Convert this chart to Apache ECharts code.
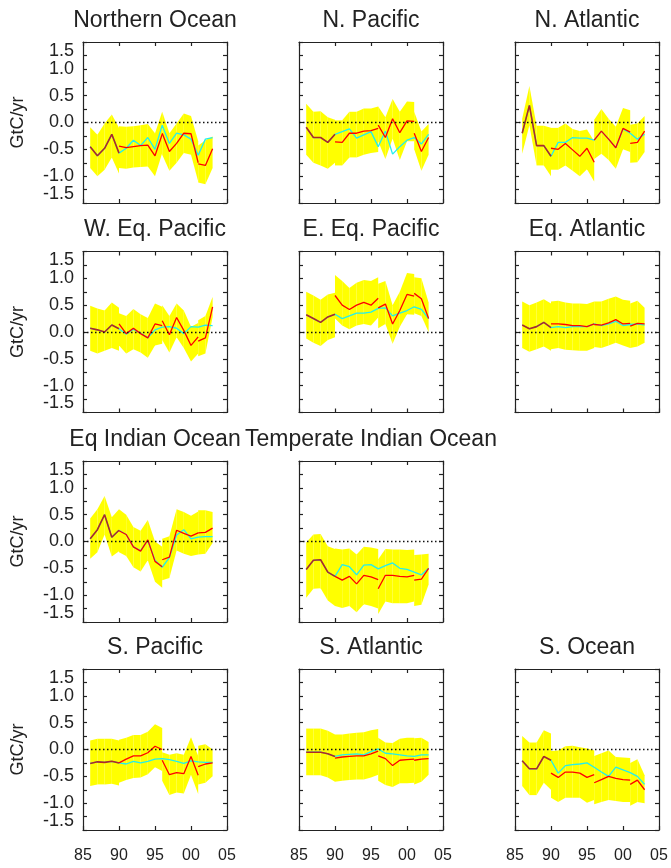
<!DOCTYPE html>
<html><head><meta charset="utf-8">
<script src="https://cdn.jsdelivr.net/npm/echarts@6/dist/echarts.min.js"></script>
<style>html,body{margin:0;padding:0;background:#fff}#c{width:671px;height:868px}</style>
</head><body><div id="c"></div><script>
// segment start years (red line + band are drawn in 4 overlapping pieces)
const segStart = [1986, 1990, 1996, 2001];
const cyanStart = 1986;
const xTickLabels = ['85', '90', '95', '00', '05'];
const yTickLabels = ['-1.5', '-1.0', '-0.5', '0.0', '0.5', '1.0', '1.5'];

// Northern Ocean
const noCyan = [-0.45,-0.62,-0.48,-0.22,-0.57,-0.48,-0.33,-0.43,-0.28,-0.50,-0.05,-0.39,-0.20,-0.23,-0.31,-0.61,-0.31,-0.28];
const noRed = [[-0.45,-0.62,-0.48,-0.22,-0.57],[-0.44,-0.47,-0.45,-0.43,-0.42,-0.62,-0.22],[-0.20,-0.54,-0.39,-0.20,-0.21,-0.75],[-0.77,-0.80,-0.49]];
const noHi = [[-0.09,-0.23,-0.02,0.15,-0.10],[-0.07,-0.08,-0.07,-0.05,-0.03,-0.20,0.20],[0.20,-0.20,-0.02,0.17,0.12,-0.35],[-0.43,-0.33,-0.26]];
const noLo = [[-0.85,-1.00,-0.88,-0.65,-0.95],[-0.85,-0.86,-0.84,-0.83,-0.82,-1.00,-0.57],[-0.60,-0.90,-0.75,-0.57,-0.60,-1.10],[-1.12,-1.15,-0.85]];

// N. Pacific
const npCyan = [-0.09,-0.28,-0.28,-0.37,-0.22,-0.17,-0.12,-0.29,-0.23,-0.17,-0.45,-0.16,-0.59,-0.45,-0.33,-0.28,-0.40,-0.22];
const npRed = [[-0.09,-0.28,-0.28,-0.37,-0.22],[-0.36,-0.37,-0.20,-0.20,-0.16,-0.15,-0.11],[-0.05,-0.28,0.07,-0.19,0.03,0.02],[-0.20,-0.54,-0.28]];
const npHi = [[0.35,0.20,0.21,0.10,0.05],[0.04,0.04,0.20,0.20,0.26,0.26,0.30],[0.30,0.10,0.44,0.20,0.39,0.38],[0.20,-0.17,-0.03]];
const npLo = [[-0.60,-0.75,-0.80,-0.86,-0.75],[-0.80,-0.80,-0.65,-0.65,-0.60,-0.57,-0.55],[-0.35,-0.68,-0.30,-0.70,-0.35,-0.35],[-0.50,-0.90,-0.60]];

// N. Atlantic
const naCyan = [-0.20,0.32,-0.43,-0.43,-0.63,-0.37,-0.37,-0.28,-0.29,-0.29,-0.33,-0.16,-0.31,-0.47,-0.12,-0.20,-0.31,-0.22];
const naRed = [[-0.20,0.32,-0.43,-0.43,-0.63],[-0.48,-0.50,-0.39,-0.51,-0.63,-0.48,-0.74],[-0.33,-0.16,-0.31,-0.47,-0.11,-0.18],[-0.39,-0.37,-0.16]];
const naHi = [[0.07,0.68,-0.06,-0.06,-0.10],[-0.10,-0.10,-0.02,-0.12,-0.16,-0.13,-0.35],[0.05,0.25,0.07,-0.08,0.27,0.23],[-0.04,-0.02,0.12]];
const naLo = [[-0.58,-0.05,-0.80,-0.80,-1.00],[-0.88,-0.88,-0.80,-0.90,-1.00,-0.87,-1.10],[-0.68,-0.58,-0.70,-0.86,-0.50,-0.55],[-0.75,-0.74,-0.55]];

// W. Eq. Pacific
const wpCyan = [0.07,0.04,0.00,0.13,0.06,-0.04,0.05,-0.02,-0.11,0.04,0.09,0.10,0.07,-0.03,0.10,0.09,0.13,0.12];
const wpRed = [[0.07,0.04,0.00,0.13,0.06],[0.15,-0.03,0.07,-0.03,-0.11,0.15,0.12],[0.21,-0.05,0.27,0.03,-0.25,-0.09],[-0.17,-0.11,0.47]];
const wpHi = [[0.49,0.44,0.40,0.55,0.45],[0.35,0.30,0.43,0.33,0.26,0.53,0.47],[0.50,0.30,0.53,0.40,0.10,0.17],[0.22,0.30,0.65]];
const wpLo = [[-0.35,-0.40,-0.35,-0.30,-0.35],[-0.25,-0.40,-0.32,-0.38,-0.48,-0.25,-0.22],[-0.15,-0.38,-0.10,-0.30,-0.55,-0.40],[-0.45,-0.40,0.28]];

// E. Eq. Pacific
const epCyan = [0.32,0.25,0.18,0.28,0.33,0.25,0.30,0.35,0.35,0.37,0.44,0.45,0.30,0.35,0.40,0.47,0.42,0.25];
const epRed = [[0.32,0.25,0.18,0.28,0.33],[0.68,0.50,0.42,0.50,0.55,0.50,0.63],[0.45,0.52,0.15,0.40,0.70,0.67],[0.72,0.62,0.25]];
const epHi = [[0.75,0.68,0.60,0.70,0.73],[1.06,0.95,0.82,0.92,0.97,0.95,1.02],[0.90,0.95,0.50,0.75,1.10,1.08],[1.02,1.00,0.55]];
const epLo = [[-0.12,-0.20,-0.26,-0.15,-0.10],[0.25,0.12,0.05,0.12,0.15,0.12,0.27],[0.07,0.15,-0.22,0.10,0.33,0.32],[0.35,0.30,0.00]];

// Eq. Atlantic
const eaCyan = [0.13,0.06,0.10,0.18,0.08,0.10,0.08,0.10,0.10,0.10,0.15,0.12,0.15,0.20,0.12,0.14,0.15,0.13];
const eaRed = [[0.13,0.06,0.10,0.18,0.08],[0.15,0.15,0.14,0.12,0.12,0.10,0.15],[0.14,0.13,0.17,0.23,0.15,0.16],[0.11,0.16,0.15]];
const eaHi = [[0.57,0.50,0.55,0.61,0.53],[0.57,0.58,0.55,0.53,0.53,0.52,0.57],[0.57,0.57,0.62,0.66,0.60,0.58],[0.53,0.58,0.45]];
const eaLo = [[-0.30,-0.37,-0.32,-0.27,-0.35],[-0.32,-0.30,-0.33,-0.34,-0.35,-0.35,-0.30],[-0.28,-0.30,-0.25,-0.20,-0.25,-0.30],[-0.30,-0.27,-0.20]];

// Eq Indian Ocean
const eiCyan = [0.05,0.22,0.50,0.08,0.21,0.13,-0.10,-0.17,0.02,-0.35,-0.48,-0.30,0.12,0.22,0.05,0.08,0.09,0.09];
const eiRed = [[0.05,0.22,0.50,0.08,0.21],[0.20,0.13,-0.10,-0.18,0.03,-0.37,-0.47],[-0.34,-0.29,0.21,0.15,0.10,0.16],[0.16,0.17,0.25]];
const eiHi = [[0.43,0.60,0.85,0.45,0.60],[0.60,0.50,0.27,0.20,0.40,0.00,-0.10],[0.05,0.10,0.60,0.55,0.48,0.56],[0.58,0.58,0.55]];
const eiLo = [[-0.32,-0.20,0.13,-0.28,-0.18],[-0.20,-0.27,-0.48,-0.56,-0.35,-0.75,-0.86],[-0.72,-0.68,-0.17,-0.23,-0.27,-0.24],[-0.24,-0.23,-0.03]];

// Temperate Indian Ocean
const tiCyan = [-0.52,-0.35,-0.34,-0.57,-0.65,-0.43,-0.47,-0.62,-0.44,-0.43,-0.51,-0.45,-0.40,-0.50,-0.52,-0.57,-0.62,-0.50];
const tiRed = [[-0.52,-0.35,-0.34,-0.57,-0.65],[-0.65,-0.72,-0.65,-0.79,-0.63,-0.66,-0.71],[-0.88,-0.63,-0.63,-0.65,-0.66,-0.63],[-0.72,-0.70,-0.50]];
const tiHi = [[-0.02,0.13,0.14,-0.09,-0.14],[-0.13,-0.15,-0.13,-0.24,-0.10,-0.11,-0.14],[-0.33,-0.14,-0.15,-0.15,-0.16,-0.15],[-0.25,-0.24,-0.23]];
const tiLo = [[-1.05,-0.88,-0.87,-1.10,-1.20],[-1.20,-1.24,-1.20,-1.32,-1.17,-1.20,-1.25],[-1.35,-1.12,-1.15,-1.15,-1.15,-1.12],[-1.20,-1.18,-0.80]];

// S. Pacific
const spCyan = [-0.26,-0.23,-0.24,-0.22,-0.25,-0.27,-0.22,-0.25,-0.22,-0.18,-0.17,-0.19,-0.22,-0.26,-0.21,-0.23,-0.24,-0.24];
const spRed = [[-0.26,-0.23,-0.24,-0.22,-0.25],[-0.25,-0.18,-0.12,-0.12,-0.06,0.06,0.00],[-0.20,-0.47,-0.43,-0.45,-0.13,-0.48],[-0.32,-0.27,-0.25]];
const spHi = [[0.17,0.20,0.20,0.20,0.17],[0.18,0.22,0.27,0.27,0.33,0.47,0.40],[-0.05,-0.10,-0.07,-0.10,0.23,-0.12],[0.07,0.10,0.00]];
const spLo = [[-0.68,-0.65,-0.65,-0.64,-0.67],[-0.62,-0.57,-0.53,-0.52,-0.46,-0.33,-0.40],[-0.58,-0.85,-0.80,-0.82,-0.47,-0.83],[-0.65,-0.62,-0.50]];

// S. Atlantic
const saCyan = [-0.05,-0.05,-0.05,-0.08,-0.13,-0.10,-0.09,-0.08,-0.10,-0.04,0.01,-0.07,-0.08,-0.10,-0.12,-0.13,-0.10,-0.10];
const saRed = [[-0.05,-0.05,-0.05,-0.08,-0.13],[-0.16,-0.14,-0.13,-0.12,-0.12,-0.08,-0.03],[-0.12,-0.17,-0.30,-0.20,-0.19,-0.18],[-0.20,-0.18,-0.17]];
const saHi = [[0.39,0.39,0.39,0.35,0.28],[0.28,0.28,0.30,0.31,0.32,0.36,0.38],[0.22,0.13,0.12,0.20,0.22,0.22],[0.21,0.22,0.14]];
const saLo = [[-0.48,-0.48,-0.48,-0.52,-0.60],[-0.60,-0.58,-0.57,-0.56,-0.56,-0.52,-0.47],[-0.58,-0.66,-0.70,-0.63,-0.63,-0.62],[-0.65,-0.60,-0.47]];

// S. Ocean
const soCyan = [-0.21,-0.36,-0.36,-0.13,-0.20,-0.44,-0.30,-0.28,-0.27,-0.25,-0.33,-0.42,-0.50,-0.33,-0.38,-0.43,-0.50,-0.65];
const soRed = [[-0.21,-0.36,-0.36,-0.13,-0.20],[-0.44,-0.52,-0.42,-0.42,-0.44,-0.52,-0.47],[-0.62,-0.56,-0.50,-0.54,-0.56,-0.57],[-0.65,-0.57,-0.75]];
const soHi = [[0.25,0.13,0.13,0.36,0.30],[-0.03,-0.02,0.06,0.07,0.04,0.02,-0.02],[-0.12,-0.07,-0.02,-0.14,-0.15,-0.16],[-0.25,-0.18,-0.48]];
const soLo = [[-0.68,-0.85,-0.85,-0.62,-0.75],[-0.90,-0.98,-0.90,-0.90,-0.90,-0.99,-0.94],[-1.02,-0.98,-0.94,-0.96,-0.98,-0.98],[-1.05,-0.98,-1.00]];

const panels = [
  {title:'Northern Ocean', row:0, col:0, cyan:noCyan, red:noRed, hi:noHi, lo:noLo},
  {title:'N. Pacific', row:0, col:1, cyan:npCyan, red:npRed, hi:npHi, lo:npLo},
  {title:'N. Atlantic', row:0, col:2, cyan:naCyan, red:naRed, hi:naHi, lo:naLo},
  {title:'W. Eq. Pacific', row:1, col:0, cyan:wpCyan, red:wpRed, hi:wpHi, lo:wpLo},
  {title:'E. Eq. Pacific', row:1, col:1, cyan:epCyan, red:epRed, hi:epHi, lo:epLo},
  {title:'Eq. Atlantic', row:1, col:2, cyan:eaCyan, red:eaRed, hi:eaHi, lo:eaLo},
  {title:'Eq Indian Ocean', row:2, col:0, cyan:eiCyan, red:eiRed, hi:eiHi, lo:eiLo},
  {title:'Temperate Indian Ocean', row:2, col:1, cyan:tiCyan, red:tiRed, hi:tiHi, lo:tiLo},
  {title:'S. Pacific', row:3, col:0, cyan:spCyan, red:spRed, hi:spHi, lo:spLo},
  {title:'S. Atlantic', row:3, col:1, cyan:saCyan, red:saRed, hi:saHi, lo:saLo},
  {title:'S. Ocean', row:3, col:2, cyan:soCyan, red:soRed, hi:soHi, lo:soLo}
];

const FONT = '"Liberation Sans", Arial, Helvetica, sans-serif';
const colLeft = [83, 299, 515];
const rowTop = [42, 251.5, 461, 669];
const W = 144, H = 161;
const AX = {color:'#222', width:1.2};

const option = {animation:false, backgroundColor:'#fff', title:[], grid:[], xAxis:[], yAxis:[], series:[]};

panels.forEach((p, i) => {
  const left = colLeft[p.col], top = rowTop[p.row];
  option.grid.push({left:left, top:top, width:W, height:H});
  option.title.push({text:p.title, left:left + W/2, top:top - 33, textAlign:'center', padding:0,
    textStyle:{fontFamily:FONT, fontSize:23, fontWeight:'normal', color:'#222'}});
  const xBase = {gridIndex:i, type:'value', min:1985, max:2005, interval:5, splitLine:{show:false},
    axisLine:{show:true, onZero:false, lineStyle:AX}, axisTick:{show:true, inside:true, length:4, lineStyle:AX}};
  option.xAxis.push(Object.assign({}, xBase, {position:'bottom',
    axisLabel:{show:p.row === 3, margin:18, fontSize:16, fontFamily:FONT, color:'#222',
      formatter:v => xTickLabels[Math.round((v - 1985) / 5)]}}));
  option.xAxis.push(Object.assign({}, xBase, {position:'top', axisLabel:{show:false}}));
  const yBase = {gridIndex:i, type:'value', min:-1.5, max:1.5, interval:0.5, splitLine:{show:false},
    axisLine:{show:true, onZero:false, lineStyle:AX}, axisTick:{show:true, inside:true, length:4, lineStyle:AX},
    minorTick:{show:true, splitNumber:2, length:4, lineStyle:AX}, minorSplitLine:{show:false}};
  const yl = Object.assign({}, yBase, {position:'left',
    axisLabel:{show:p.col === 0, margin:9, fontSize:18, fontFamily:FONT, color:'#222',
      verticalAlignMaxLabel:'top', verticalAlignMinLabel:'bottom',
      formatter:v => yTickLabels[Math.round((v + 1.5) / 0.5)]}});
  if (p.col === 0) {
    yl.name = 'GtC/yr'; yl.nameLocation = 'middle'; yl.nameGap = 56; yl.nameRotate = 90;
    yl.nameTextStyle = {fontFamily:FONT, fontSize:18, color:'#222'};
  }
  option.yAxis.push(yl);
  option.yAxis.push(Object.assign({}, yBase, {position:'right', axisLabel:{show:false}}));

  const xi = 2 * i, yi = 2 * i;
  // band quads
  const quads = [];
  p.hi.forEach((seg, s) => {
    for (let k = 0; k < seg.length - 1; k++) {
      const x0 = segStart[s] + k;
      quads.push([x0, p.lo[s][k], seg[k], x0 + 1, p.lo[s][k + 1], seg[k + 1]]);
    }
  });
  option.series.push({type:'custom', xAxisIndex:xi, yAxisIndex:yi, z:1, silent:true, data:quads,
    encode:{x:[0, 3], y:[1, 2, 4, 5]},
    renderItem:(params, api) => {
      const a = api.coord([api.value(0), api.value(2)]);
      const b = api.coord([api.value(3), api.value(5)]);
      const c = api.coord([api.value(3), api.value(4)]);
      const d = api.coord([api.value(0), api.value(1)]);
      return {type:'polygon', shape:{points:[a, b, c, d]}, style:{fill:'#ffff00'}};
    }});
  option.series.push({type:'line', xAxisIndex:xi, yAxisIndex:yi, z:2, silent:true, showSymbol:false,
    data:p.cyan.map((v, k) => [cyanStart + k, v]),
    lineStyle:{color:'#22eeee', width:1.3}, itemStyle:{color:'#22eeee'},
    markLine:{silent:true, symbol:'none', label:{show:false}, animation:false,
      lineStyle:{color:'#111', type:[1.5, 2.5], width:1.3}, data:[{yAxis:0}]}});
  p.red.forEach((seg, s) => {
    const col = s === 0 ? '#b02a24' : '#ff0000';
    option.series.push({type:'line', xAxisIndex:xi, yAxisIndex:yi, z:3, silent:true, showSymbol:false,
      data:seg.map((v, k) => [segStart[s] + k, v]),
      lineStyle:{color:col, width:s === 0 ? 1.6 : 1.3}, itemStyle:{color:col}});
  });
});

const chart = echarts.init(document.getElementById('c'), null, {renderer:'canvas'});
chart.setOption(option);
</script></body></html>
